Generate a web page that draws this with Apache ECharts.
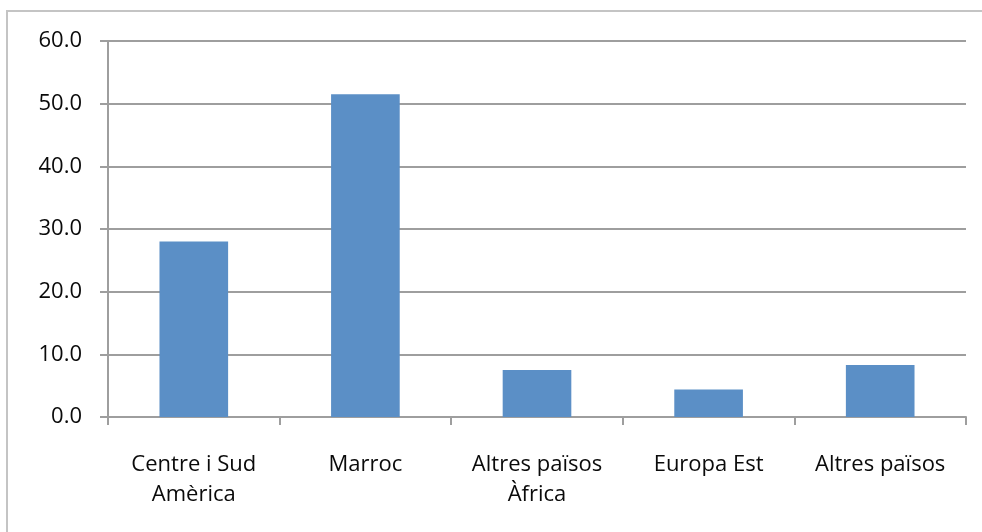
<!DOCTYPE html>
<html>
<head>
<meta charset="utf-8">
<script src="https://cdn.jsdelivr.net/npm/echarts@6/dist/echarts.min.js"></script>
<style>
html,body{margin:0;padding:0;background:#fff;}
#c{width:982px;height:532px;}
</style>
</head>
<body>
<div id="c"></div>
<script>
const categories = ["Centre i Sud\nAmèrica", "Marroc", "Altres països\nÀfrica", "Europa Est", "Altres països"];
const values = [28.0, 51.5, 7.5, 4.4, 8.3];
const yTicks = {min: 0, max: 60, interval: 10};

const chart = echarts.init(document.getElementById('c'), null, {renderer: 'canvas'});
const font = '"Open Sans", sans-serif';
chart.setOption({
  animation: false,
  backgroundColor: '#fff',
  graphic: [{
    type: 'rect', silent: true,
    shape: {x: 7, y: 11, width: 1100, height: 700},
    style: {fill: 'none', stroke: '#c4c4c4', lineWidth: 2}
  }],
  grid: {left: 108, right: 16, top: 41, bottom: 115},
  xAxis: {
    type: 'category',
    data: categories,
    axisLine: {lineStyle: {color: '#9e9e9e', width: 2}},
    axisTick: {show: true, length: 8, lineStyle: {color: '#9e9e9e', width: 2}},
    axisLabel: {color: '#0a0a0a', fontFamily: font, fontSize: 22, lineHeight: 30, margin: 33, interval: 0}
  },
  yAxis: {
    type: 'value',
    min: yTicks.min, max: yTicks.max, interval: yTicks.interval,
    axisLine: {show: true, lineStyle: {color: '#9e9e9e', width: 2}},
    axisTick: {show: true, length: 8, lineStyle: {color: '#9e9e9e', width: 2}},
    splitLine: {lineStyle: {color: '#9e9e9e', width: 2}},
    axisLabel: {color: '#0a0a0a', fontFamily: font, fontSize: 22, margin: 26,
      formatter: v => v.toFixed(1)}
  },
  series: [{
    type: 'bar',
    data: values,
    barCategoryGap: '60%',
    itemStyle: {color: '#5b8fc6'}
  }]
});
</script>
</body>
</html>
